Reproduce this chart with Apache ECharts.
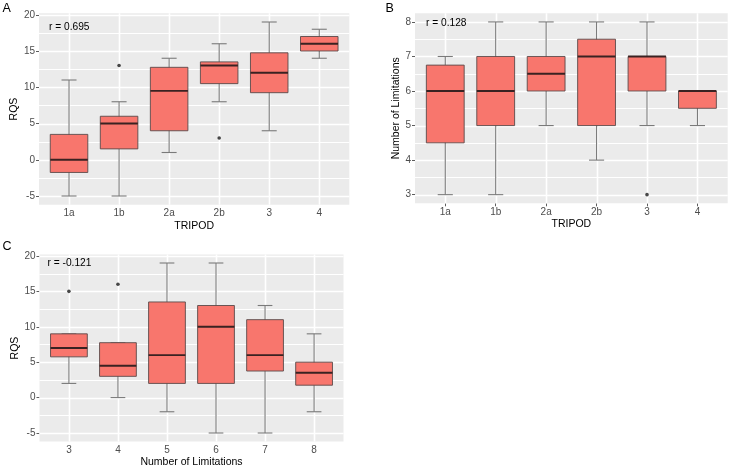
<!DOCTYPE html>
<html>
<head>
<meta charset="utf-8">
<title>RQS boxplots</title>
<script src="https://cdn.jsdelivr.net/npm/echarts@6/dist/echarts.min.js"></script>
<style>
  html, body { margin: 0; padding: 0; background: #fff; }
  #chart { width: 731px; height: 469px; }
</style>
</head>
<body>
<div id="chart"></div>
<script>
// categories on the x axes
const tripodCats = ['1a', '1b', '2a', '2b', '3', '4'];
const limitCats = ['3', '4', '5', '6', '7', '8'];

// [min, q1, median, q3, max] for each category
const rqsByTripod = [
  [-5, -1.75, 0, 3.5, 11],
  [-5, 1.5, 5, 6, 8],
  [1, 4, 9.5, 12.75, 14],
  [8, 10.5, 13, 13.5, 16],
  [4, 9.25, 12, 14.75, 19],
  [14, 15, 16, 17, 18]
];
const limitsByTripod = [
  [3, 4.5, 6, 6.75, 7],
  [3, 5, 6, 7, 8],
  [5, 6, 6.5, 7, 8],
  [4, 5, 7, 7.5, 8],
  [5, 6, 7, 7, 8],
  [5, 5.5, 6, 6, 6]
];
const rqsByLimits = [
  [2, 5.75, 7, 9, 9],
  [0, 3, 4.5, 7.75, 7.75],
  [-2, 2, 6, 13.5, 19],
  [-5, 2, 10, 13, 19],
  [-5, 3.75, 6, 11, 13],
  [-2, 1.75, 3.5, 5, 9]
];

// outliers: [category position (1-based), value]
const rqsByTripodOut = [[2, 13], [4, 3]];
const limitsByTripodOut = [[5, 3]];
const rqsByLimitsOut = [[1, 15], [2, 16]];

// tick values
const catTicks = [1, 2, 3, 4, 5, 6];
const rqsTicks = [-5, 0, 5, 10, 15, 20];
const rqsMinor = [-2.5, 2.5, 7.5, 12.5, 17.5];
const limitTicks = [3, 4, 5, 6, 7, 8];
const limitMinor = [3.5, 4.5, 5.5, 6.5, 7.5];

const rLabels = ['r = 0.695', 'r = 0.128', 'r = -0.121'];

const FONT = '"Liberation Sans", Arial, sans-serif';
const BOX_FILL = '#F8766D';
const PANEL_BG = '#EBEBEB';

const chart = echarts.init(document.getElementById('chart'));

function xAxisFor(gi, cats, title, gap) {
  return {
    type: 'value', gridIndex: gi, min: 0.4, max: 6.6,
    name: title, nameLocation: 'middle', nameGap: gap,
    nameTextStyle: { color: '#000', fontSize: 10.5, fontFamily: FONT },
    axisLine: { show: false },
    axisTick: { show: true, customValues: catTicks, length: 3, lineStyle: { color: '#333', width: 0.8 } },
    axisLabel: {
      customValues: catTicks, margin: 4, color: '#4D4D4D', fontSize: 10, fontFamily: FONT,
      formatter: (v) => cats[Math.round(v) - 1]
    },
    splitLine: { show: false }
  };
}

function yAxisFor(gi, min, max, ticks, title, gap) {
  return {
    type: 'value', gridIndex: gi, min: min, max: max,
    name: title, nameLocation: 'middle', nameGap: gap,
    nameTextStyle: { color: '#000', fontSize: 10.5, fontFamily: FONT },
    axisLine: { show: false },
    axisTick: { show: true, customValues: ticks, length: 3, lineStyle: { color: '#333', width: 0.8 } },
    axisLabel: { customValues: ticks, margin: 4, color: '#4D4D4D', fontSize: 10, fontFamily: FONT },
    splitLine: { show: false }
  };
}

// grey panel plus white ggplot-style grid lines, drawn in one item under the boxes
function panelSeries(gi, yMajor, yMinor) {
  return {
    type: 'custom', xAxisIndex: gi, yAxisIndex: gi, z: 1, silent: true,
    data: [[3.5, yMajor[0]]],
    renderItem: function (params, api) {
      const cs = params.coordSys;
      const kids = [{
        type: 'rect', shape: { x: cs.x, y: cs.y, width: cs.width, height: cs.height },
        style: { fill: PANEL_BG }
      }];
      // snap to pixel centres so the thin white lines stay crisp
      const hLine = (v, w) => {
        const y = Math.round(api.coord([1, v])[1]) + 0.5;
        kids.push({ type: 'line', shape: { x1: cs.x, y1: y, x2: cs.x + cs.width, y2: y }, style: { stroke: '#ffffff', lineWidth: w } });
      };
      yMinor.forEach((v) => hLine(v, 1));
      yMajor.forEach((v) => hLine(v, 1.6));
      catTicks.forEach((v) => {
        const x = Math.round(api.coord([v, yMajor[0]])[0]) + 0.5;
        kids.push({ type: 'line', shape: { x1: x, y1: cs.y, x2: x, y2: cs.y + cs.height }, style: { stroke: '#ffffff', lineWidth: 1.6 } });
      });
      return { type: 'group', children: kids };
    }
  };
}

function renderBox(params, api) {
  const x = api.value(0);
  const lo = api.coord([x, api.value(1)]);
  const q1 = api.coord([x, api.value(2)]);
  const md = api.coord([x, api.value(3)]);
  const q3 = api.coord([x, api.value(4)]);
  const hi = api.coord([x, api.value(5)]);
  const band = api.size([1, 0])[0];
  const bw = band * 0.75;
  const cw = band * 0.3;
  const cx = lo[0];
  const wStyle = { stroke: '#7a7a7a', lineWidth: 1.1 };
  return {
    type: 'group',
    children: [
      { type: 'line', shape: { x1: cx, y1: lo[1], x2: cx, y2: hi[1] }, style: wStyle },
      { type: 'line', shape: { x1: cx - cw / 2, y1: lo[1], x2: cx + cw / 2, y2: lo[1] }, style: wStyle },
      { type: 'line', shape: { x1: cx - cw / 2, y1: hi[1], x2: cx + cw / 2, y2: hi[1] }, style: wStyle },
      {
        type: 'rect',
        shape: { x: cx - bw / 2, y: q3[1], width: bw, height: q1[1] - q3[1] },
        style: { fill: BOX_FILL, stroke: '#5a4a4a', lineWidth: 0.9 }
      },
      { type: 'line', shape: { x1: cx - bw / 2, y1: md[1], x2: cx + bw / 2, y2: md[1] }, style: { stroke: '#3a2222', lineWidth: 1.9 } }
    ]
  };
}

function boxSeries(gi, boxes) {
  return {
    type: 'custom', xAxisIndex: gi, yAxisIndex: gi, z: 5,
    renderItem: renderBox,
    encode: { x: 0, y: [1, 2, 3, 4, 5] },
    data: boxes.map((b, i) => [i + 1].concat(b))
  };
}

function outlierSeries(gi, pts) {
  return {
    type: 'scatter', xAxisIndex: gi, yAxisIndex: gi, z: 6,
    symbolSize: 3.6, itemStyle: { color: '#1a1a1a' }, data: pts
  };
}

function textEl(x, y, text, size) {
  return {
    type: 'text', x: x, y: y, z: 10,
    style: { text: text, fill: '#000', font: size + 'px ' + FONT, textVerticalAlign: 'middle' }
  };
}

const option = {
  animation: false,
  backgroundColor: '#fff',
  grid: [
    { left: 39, top: 13.3, width: 310.3, height: 191.4 },
    { left: 415, top: 13.3, width: 312.7, height: 190 },
    { left: 39.5, top: 254.5, width: 304, height: 188.2 }
  ],
  xAxis: [
    xAxisFor(0, tripodCats, 'TRIPOD', 16),
    xAxisFor(1, tripodCats, 'TRIPOD', 15.5),
    xAxisFor(2, limitCats, 'Number of Limitations', 15.5)
  ],
  yAxis: [
    yAxisFor(0, -6.2, 20.2, rqsTicks, 'RQS', 15),
    yAxisFor(1, 2.75, 8.25, limitTicks, 'Number of Limitations', 7),
    yAxisFor(2, -6.2, 20.2, rqsTicks, 'RQS', 13.5)
  ],
  series: [
    panelSeries(0, rqsTicks, rqsMinor),
    panelSeries(1, limitTicks, limitMinor),
    panelSeries(2, rqsTicks, rqsMinor),
    boxSeries(0, rqsByTripod),
    boxSeries(1, limitsByTripod),
    boxSeries(2, rqsByLimits),
    outlierSeries(0, rqsByTripodOut),
    outlierSeries(1, limitsByTripodOut),
    outlierSeries(2, rqsByLimitsOut)
  ],
  graphic: [
    textEl(2.5, 9, 'A', 12.5),
    textEl(385.5, 9, 'B', 12.5),
    textEl(2.5, 247, 'C', 12.5),
    textEl(49, 27, rLabels[0], 10.2),
    textEl(426, 23.5, rLabels[1], 10.2),
    textEl(47.5, 263.5, rLabels[2], 10.2)
  ]
};

chart.setOption(option);
</script>
</body>
</html>
